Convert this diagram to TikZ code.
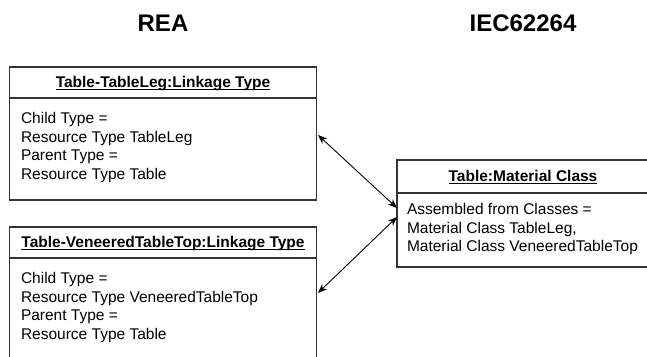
\documentclass[tikz,border=0pt]{standalone}
\usepackage{fontspec}
\setmainfont{Liberation Sans}
\usetikzlibrary{arrows.meta,calc}
% underline that sits just under the baseline
\newcommand\ulbar[1]{\setbox0\hbox{#1}\rlap{\rule[-2.2pt]{\wd0}{1pt}}\box0}

\begin{document}
\begin{tikzpicture}[x=1pt,y=-1pt,
  every node/.style={inner sep=0pt, outer sep=0pt},
  frame/.style={draw=black!80, line width=1.1pt, fill=white, anchor=north west},
  hdr/.style={frame, font=\bfseries\fontsize{15.5}{18.5}\selectfont,
    text height=13.8pt, text depth=3pt},
  bodytext/.style={anchor=north west, align=left,
    font=\fontsize{15.5}{18.6}\selectfont},
  side/.style={font=\bfseries\fontsize{24}{28}\selectfont, anchor=base},
  link/.style={line width=0.9pt,
    {Stealth[length=9pt,width=7pt,inset=2.5pt]}-{Stealth[length=9pt,width=7pt,inset=2.5pt]}}
]
\useasboundingbox (0,0) rectangle (647,356);
\fill[white] (0,0) rectangle (647,356);
\clip (0,0) rectangle (647,356);

% column headings
\node[side] (rea) at (163,31) {REA};
\node[side] (iec) at (523,31) {IEC62264};

% linkage type Table-TableLeg
\node[hdr, minimum width=307pt, minimum height=31pt] (l1h) at (9.5,67)
  {\ulbar{Table-TableLeg:Linkage Type}};
\node[frame, minimum width=307pt, minimum height=102pt] (l1b) at (9.5,98) {};
\node[bodytext] (l1t) at (21,112.4)
  {Child Type =\\Resource Type TableLeg\\Parent Type =\\Resource Type Table};

% linkage type Table-VeneeredTableTop
\node[hdr, minimum width=307pt, minimum height=31pt] (l2h) at (9.5,227)
  {\ulbar{Table-VeneeredTableTop:Linkage Type}};
\node[frame, minimum width=307pt, minimum height=120pt] (l2b) at (9.5,258) {};
\node[bodytext] (l2t) at (21,272.4)
  {Child Type =\\Resource Type VeneeredTableTop\\Parent Type =\\Resource Type Table};

% material class Table (runs past the right edge)
\node[hdr, minimum width=252pt, minimum height=33pt] (mh) at (397,160)
  {\ulbar{Table:Material Class}};
\node[frame, minimum width=258pt, minimum height=74pt] (mb) at (397,193) {};
\path[fill=white] (648,150) rectangle (660,280);
\draw[draw=black!80, line width=1.1pt] (mh.north east) -- (660,160)
  (mh.south east) -- (660,193);
\node[bodytext] (mt) at (407,203.4)
  {Assembled from Classes =\\Material Class TableLeg,\\Material Class VeneeredTableTop};

% connector end points on the box edges
\coordinate (c1) at ($(l1b.north east)+(1.5,37)$);
\coordinate (c2) at ($(l2b.north east)+(1.5,35)$);
\coordinate (m1) at ($(mb.north west)+(0,15)$);
\coordinate (m2) at ($(mb.north west)+(0,24)$);

\draw[link] (c1) -- (m1);
\draw[link] (c2) -- (m2);
\end{tikzpicture}
\end{document}
